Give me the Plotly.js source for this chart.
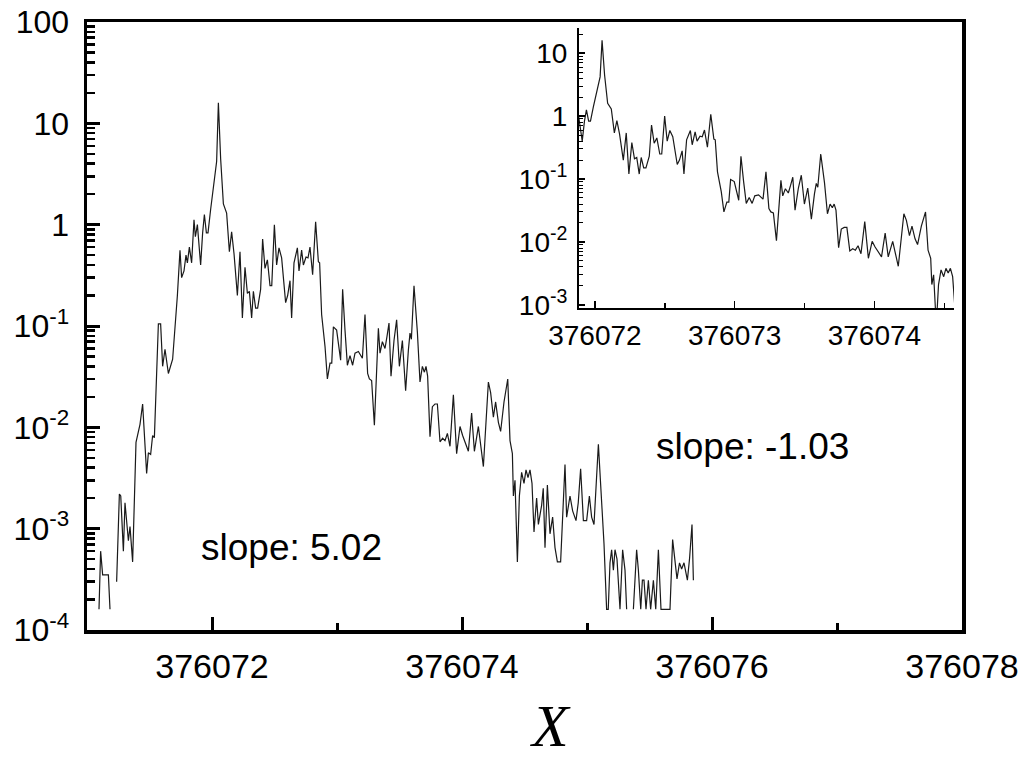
<!DOCTYPE html>
<html>
<head>
<meta charset="utf-8">
<script src="https://cdn.plot.ly/plotly-3.0.1.min.js"></script>
<style>
html,body{margin:0;padding:0;background:#fff;}
#chart{width:1024px;height:761px;}
</style>
</head>
<body>
<div id="chart"></div>
<script>
// ---- data (x = frequency-like coordinate, y = intensity; null = gap/zero) ----
const xValues = [
376071.096,376071.109,376071.125,376071.171,376071.184,376071.210,376071.237,376071.259,376071.270,376071.291,
376071.304,376071.331,376071.344,376071.365,376071.392,376071.411,376071.424,376071.445,376071.456,376071.477,
376071.491,376071.509,376071.525,376071.539,376071.571,376071.589,376071.605,376071.624,376071.651,376071.664,
376071.685,376071.723,376071.744,376071.757,376071.776,376071.792,376071.803,376071.819,376071.837,376071.856,
376071.867,376071.883,376071.896,376071.909,376071.925,376071.939,376071.955,376071.968,376071.989,376072.000,
376072.037,376072.051,376072.069,376072.091,376072.117,376072.139,376072.157,376072.176,376072.203,376072.224,
376072.243,376072.264,376072.283,376072.299,376072.317,376072.331,376072.349,376072.365,376072.389,376072.405,
376072.424,376072.443,376072.464,376072.478,376072.499,376072.517,376072.536,376072.557,376072.589,376072.605,
376072.624,376072.637,376072.656,376072.683,376072.696,376072.717,376072.731,376072.752,376072.768,376072.784,
376072.805,376072.829,376072.851,376072.861,376072.877,376072.904,376072.923,376072.944,376072.958,376072.971,
376072.997,376073.029,376073.045,376073.064,376073.083,376073.104,376073.125,376073.144,376073.171,376073.203,
376073.224,376073.245,376073.259,376073.277,376073.299,376073.331,376073.344,376073.363,376073.384,376073.400,
376073.416,376073.432,376073.456,376073.477,376073.499,376073.523,376073.549,376073.571,376073.584,376073.595,
376073.616,376073.643,376073.664,376073.683,376073.699,376073.712,376073.725,376073.744,376073.763,376073.784,
376073.803,376073.824,376073.845,376073.864,376073.883,376073.904,376073.931,376073.957,376073.984,376074.005,
376074.032,376074.051,376074.077,376074.099,376074.131,376074.171,376074.211,376074.229,376074.251,376074.269,
376074.291,376074.309,376074.336,376074.366,376074.384,376074.403,376074.411,376074.424,376074.443,376074.459,
376074.477,376074.496,376074.512,376074.528,376074.544,376074.560,376074.576,376074.597,376074.611,376074.637,
376074.650,376074.664,376074.683,376074.704,376074.725,376074.744,376074.763,376074.789,376074.824,376074.837,
376074.864,376074.885,376074.912,376074.930,376074.949,376074.971,376074.997,376075.019,376075.037,376075.056,
376075.091,376075.117,376075.136,376075.157,376075.170,376075.184,376075.197,376075.211,376075.224,376075.240,
376075.264,376075.285,376075.304,376075.317,376075.340,376075.371,376075.397,376075.411,376075.430,376075.443,
376075.456,376075.472,376075.491,376075.509,376075.531,376075.550,376075.571,376075.592,376075.627,376075.664,
376075.685,376075.704,376075.720,376075.740,376075.757,376075.776,376075.803,376075.820,376075.840,376075.851
];
const yValues = [
1.6e-4,6.0e-4,3.5e-4,3.5e-4,1.6e-4,null,3.0e-4,2.2e-3,2.1e-3,6.0e-4,
1.8e-3,7.6e-4,1.05e-3,4.7e-4,7.1e-3,8.9e-3,1.07e-2,1.7e-2,9.5e-3,3.5e-3,
5.6e-3,5.4e-3,8.3e-3,7.9e-3,0.105,0.105,0.040,0.059,0.034,0.038,
0.047,0.20,0.56,0.30,0.35,0.50,0.42,0.60,0.42,1.12,
0.76,1.0,0.66,0.40,0.83,1.26,0.83,0.83,1.41,1.78,
4.2,16,4.5,1.6,1.3,0.54,0.85,0.52,0.20,0.54,
0.12,0.38,0.21,0.22,0.12,0.22,0.15,0.15,0.23,0.72,
0.37,0.45,0.25,0.25,1.0,0.40,0.59,0.47,0.17,0.20,
0.28,0.12,0.42,0.59,0.35,0.56,0.40,0.48,0.47,0.60,
0.32,1.07,0.43,0.42,0.13,0.063,0.030,0.043,0.043,0.098,
0.091,0.046,0.23,0.091,0.041,0.051,0.041,0.054,0.056,0.048,
0.13,0.034,0.030,0.029,0.0105,0.095,0.054,0.070,0.060,0.079,
0.107,0.032,0.072,0.115,0.040,0.072,0.023,0.058,0.085,0.074,
0.25,0.087,0.028,0.040,0.035,0.040,0.032,0.0081,0.016,0.017,
0.017,0.0072,0.0078,0.0074,0.0087,0.0065,0.021,0.0055,0.0102,0.0083,
0.0066,0.0058,0.0138,0.0058,0.0102,0.0041,0.028,0.022,0.0126,0.0178,
0.0112,0.0091,0.0178,0.030,0.0074,0.0055,0.0021,0.0030,0.00047,0.0021,
0.0036,0.0028,0.0038,0.0032,0.0038,0.0028,0.00093,0.0020,0.0011,0.0017,
0.0025,0.00065,0.0027,0.00089,0.0013,0.00065,0.00047,0.00047,0.0043,0.0013,
0.0021,0.0015,0.0012,0.0018,0.0039,0.0012,0.0012,0.0021,0.0013,0.0011,
0.0068,0.0021,0.00071,0.00016,0.00016,0.00046,0.00062,0.00039,0.00062,0.0005,
0.00016,0.00062,0.00039,0.00016,null,0.00016,0.00062,0.00039,0.00016,0.00031,
0.00031,0.00016,0.00031,0.00016,0.00031,0.00016,0.00062,0.00016,0.00016,0.00016,
0.00078,0.00046,0.00032,0.00046,0.00040,0.00046,0.00031,0.0005,0.0011,0.00031
];

// tick labels
const mainXTickVals = [376072, 376074, 376076, 376078];
const mainXTickText = ['376072', '376074', '376076', '376078'];
const mainXMinorVals = [376073, 376075, 376077];
const mainYTickVals = [1e-4, 1e-3, 1e-2, 1e-1, 1, 10, 100];
const mainYTickText = ['10<sup>-4</sup>', '10<sup>-3</sup>', '10<sup>-2</sup>', '10<sup>-1</sup>', '1', '10', '100'];
const insetXTickVals = [376072, 376073, 376074];
const insetXTickText = ['376072', '376073', '376074'];
const insetXMinorVals = [376072.5, 376073.5, 376074.5];
const insetYTickVals = [1e-3, 1e-2, 1e-1, 1, 10];
const insetYTickText = ['10<sup>-3</sup>', '10<sup>-2</sup>', '10<sup>-1</sup>', '1', '10'];
const slopeLabels = ['slope: 5.02', 'slope: -1.03'];
const xTitle = 'X';

// minor tick positions for log axes (2..9 per decade)
function logMinor(lo, hi) {
  const v = [];
  for (let e = lo; e < hi; e++) for (let m = 2; m <= 9; m++) v.push(m * Math.pow(10, e));
  return v;
}

const lineCol = '#1a1a1a';
const traces = [
  {x: xValues, y: yValues, xaxis: 'x', yaxis: 'y', type: 'scatter', mode: 'lines',
   line: {color: lineCol, width: 1.2}, connectgaps: false, hoverinfo: 'skip'},
  {x: xValues, y: yValues, xaxis: 'x2', yaxis: 'y2', type: 'scatter', mode: 'lines',
   line: {color: lineCol, width: 1.2}, connectgaps: false, hoverinfo: 'skip'}
];

const layout = {
  width: 1024, height: 761,
  margin: {l: 87, r: 62, t: 22, b: 131, pad: 0},
  paper_bgcolor: '#fff', plot_bgcolor: '#fff',
  showlegend: false,
  font: {family: 'Liberation Sans, Arial, sans-serif', color: '#000'},
  xaxis: {
    range: [376071, 376078], showgrid: false, zeroline: false,
    showline: true, mirror: true, linecolor: '#000', linewidth: 3.5,
    ticks: 'inside', ticklen: 13, tickwidth: 3, tickcolor: '#000',
    tickmode: 'array', tickvals: mainXTickVals, ticktext: mainXTickText,
    tickfont: {size: 34}, ticklabelstandoff: 4,
    minor: {ticks: 'inside', ticklen: 7, tickwidth: 3, tickcolor: '#000', tickmode: 'array', tickvals: mainXMinorVals}
  },
  yaxis: {
    type: 'log', range: [-4, 2], showgrid: false, zeroline: false,
    showline: true, mirror: true, linecolor: '#000', linewidth: 3.5,
    ticks: 'inside', ticklen: 13, tickwidth: 3, tickcolor: '#000',
    tickmode: 'array', tickvals: mainYTickVals, ticktext: mainYTickText,
    tickfont: {size: 32}, ticklabelstandoff: 8,
    minor: {ticks: 'inside', ticklen: 8, tickwidth: 2.5, tickcolor: '#000', tickmode: 'array', tickvals: logMinor(-4, 2)}
  },
  xaxis2: {
    anchor: 'y2', domain: [0.5623, 0.9909],
    range: [376071.886, 376074.57], showgrid: false, zeroline: false,
    showline: true, mirror: false, linecolor: '#000', linewidth: 2,
    ticks: 'inside', ticklen: 7, tickwidth: 1.5, tickcolor: '#000',
    tickmode: 'array', tickvals: insetXTickVals, ticktext: insetXTickText,
    tickfont: {size: 28}, ticklabelstandoff: 1,
    minor: {ticks: 'inside', ticklen: 5, tickwidth: 1.5, tickcolor: '#000', tickmode: 'array', tickvals: insetXMinorVals}
  },
  yaxis2: {
    anchor: 'x2', domain: [0.5296, 0.9901], type: 'log',
    range: [-3.05, 1.4], showgrid: false, zeroline: false,
    showline: true, mirror: false, linecolor: '#000', linewidth: 2,
    ticks: 'inside', ticklen: 6, tickwidth: 1.5, tickcolor: '#000',
    tickmode: 'array', tickvals: insetYTickVals, ticktext: insetYTickText,
    tickfont: {size: 28}, ticklabelstandoff: 4,
    minor: {ticks: 'inside', ticklen: 4, tickwidth: 1, tickcolor: '#000', tickmode: 'array', tickvals: logMinor(-3, 2)}
  },
  annotations: [
    {xref: 'paper', yref: 'paper', x: 0.128, y: 0.1349, xanchor: 'left', yanchor: 'middle',
     text: slopeLabels[0], showarrow: false, font: {size: 37, color: '#000'}},
    {xref: 'paper', yref: 'paper', x: 0.648, y: 0.301, xanchor: 'left', yanchor: 'middle',
     text: slopeLabels[1], showarrow: false, font: {size: 37, color: '#000'}},
    {xref: 'paper', yref: 'paper', x: 0.530, y: -0.158, xanchor: 'center', yanchor: 'middle',
     text: '<i>' + xTitle + '</i>', showarrow: false,
     font: {size: 60, family: 'Liberation Serif, Times New Roman, serif', color: '#000'}}
  ]
};

Plotly.newPlot('chart', traces, layout, {displayModeBar: false, staticPlot: true});
</script>
</body>
</html>
